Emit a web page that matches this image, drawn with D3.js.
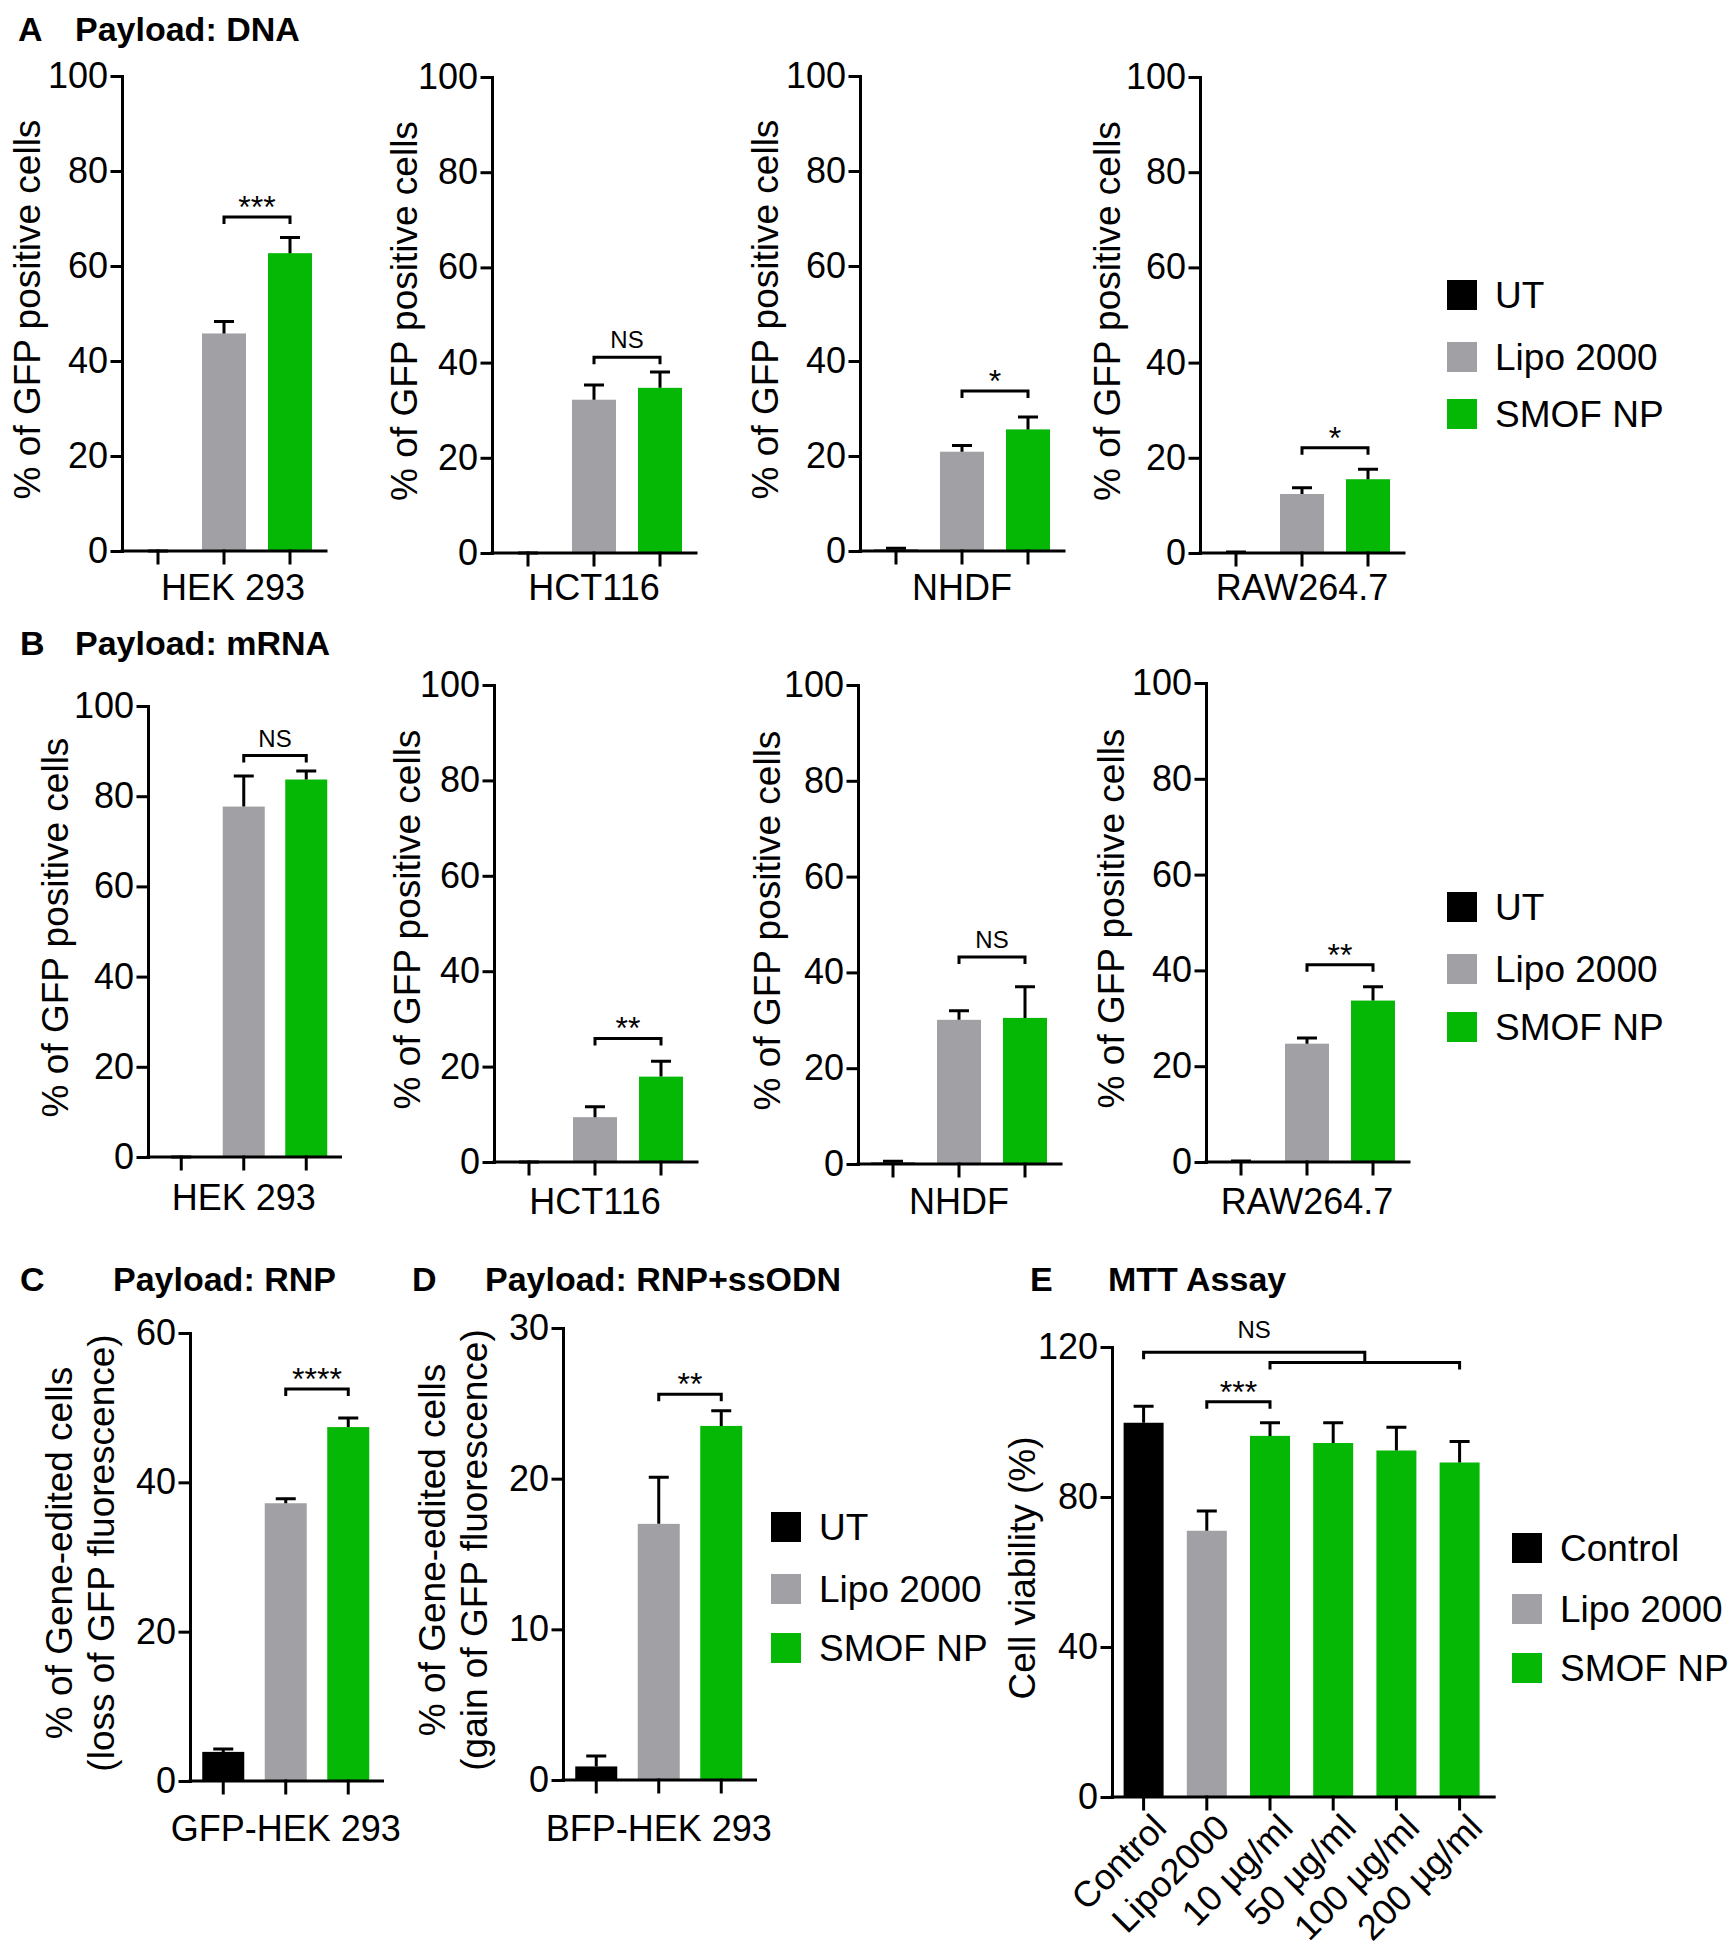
<!DOCTYPE html>
<html>
<head>
<meta charset="utf-8">
<script src="https://cdn.jsdelivr.net/npm/d3@7"></script>
<style>
  body { margin: 0; background: #fff; }
  text { font-family: "Liberation Sans", Arial, Helvetica, sans-serif; fill: #000; }
</style>
</head>
<body>
<svg id="fig"></svg>
<script>
// ---- data ----
const groups = ["UT", "Lipo 2000", "SMOF NP"];
const groupColors = ["#000000", "#a1a1a5", "#06b806"];

const dnaCells = ["HEK 293", "HCT116", "NHDF", "RAW264.7"];
const dnaMean = [[0, 45.8, 62.7], [0, 32.2, 34.7], [0.3, 20.9, 25.6], [0.1, 12.4, 15.5]];
const dnaSd = [[0, 2.5, 3.3], [0, 3.1, 3.3], [0.3, 1.3, 2.6], [0.1, 1.3, 2.1]];
const dnaSig = ["***", "NS", "*", "*"];
const dnaSigAt = [70.3, 41.1, 33.7, 22.1];

const mrnaCells = ["HEK 293", "HCT116", "NHDF", "RAW264.7"];
const mrnaMean = [[0, 77.7, 83.7], [0, 9.4, 17.9], [0.3, 30.1, 30.5], [0.1, 24.7, 33.7]];
const mrnaSd = [[0, 6.8, 1.9], [0, 2.2, 3.2], [0.3, 1.9, 6.5], [0.1, 1.2, 2.9]];
const mrnaSig = ["NS", "**", "NS", "**"];
const mrnaSigAt = [89.0, 25.9, 43.2, 41.2];

const gfpTicks = [0, 20, 40, 60, 80, 100];

const rnpMean = [3.9, 37.2, 47.4];
const rnpSd = [0.4, 0.6, 1.2];
const rnpTicks = [0, 20, 40, 60];

const odnMean = [0.9, 17.0, 23.5];
const odnSd = [0.7, 3.1, 1.0];
const odnTicks = [0, 10, 20, 30];

const mttLabels = ["Control", "Lipo2000", "10 \u00b5g/ml", "50 \u00b5g/ml", "100 \u00b5g/ml", "200 \u00b5g/ml"];
const mttMean = [99.8, 71.0, 96.3, 94.4, 92.4, 89.2];
const mttSd = [4.4, 5.3, 3.5, 5.4, 6.2, 5.6];
const mttGroup = [0, 1, 2, 2, 2, 2];
const mttLegend = ["Control", "Lipo 2000", "SMOF NP"];
const mttTicks = [0, 40, 80, 120];

// ---- drawing ----
const svg = d3.select("#fig").attr("width", 1730).attr("height", 1950);

function barPanel(p) {
  const g = svg.append("g");
  const n = p.means.length;
  const y = d3.scaleLinear().domain([0, p.max]).range([p.y0, p.yTop]);
  const pad = 1 - p.barW / p.step;
  const r0 = p.axisX + p.off, r1 = r0 + n * p.step;
  const x = d3.scaleBand().domain(d3.range(n)).range([r0, r1])
    .paddingInner(pad).paddingOuter(pad / 2);
  const cx = i => x(i) + x.bandwidth() / 2;

  g.selectAll("rect.bar").data(p.means).enter().append("rect")
    .attr("x", (d, i) => x(i))
    .attr("y", d => y(d))
    .attr("width", x.bandwidth())
    .attr("height", d => p.y0 - y(d))
    .attr("fill", (d, i) => p.colors[i]);

  g.selectAll("path.err").data(p.means).enter().append("path")
    .attr("d", (d, i) => {
      const top = y(d + p.sds[i]);
      return `M${cx(i)},${y(d)}V${top}M${cx(i) - 10},${top}H${cx(i) + 10}`;
    })
    .attr("stroke", "#000").attr("stroke-width", 3).attr("fill", "none");

  const ya = g.append("g").attr("transform", `translate(${p.axisX},0)`)
    .call(d3.axisLeft(y).tickValues(p.ticks).tickSize(10).tickSizeOuter(0).tickPadding(4));
  const xa = g.append("g").attr("transform", `translate(0,${p.y0})`)
    .call(d3.axisBottom(x).tickSize(12).tickSizeOuter(0)
      .tickFormat(p.xLabels ? (d => p.xLabels[d]) : ""));
  xa.select(".domain").attr("d", `M${p.axisX},0H${r1 + 3}`);
  [ya, xa].forEach(a => {
    a.selectAll("path, line").attr("stroke", "#000").attr("stroke-width", 3)
      .attr("stroke-linecap", "square");
    a.selectAll("text").attr("font-size", 36).attr("fill", "#000")
      .style("font-family", "'Liberation Sans', Arial, sans-serif");
  });

  if (p.cat) {
    g.append("text").attr("x", cx(1) + (p.catDx || 0)).attr("y", p.catY)
      .attr("text-anchor", "middle").attr("font-size", 36).text(p.cat);
  }

  if (p.sig) bracket(g, cx(1), cx(2), y(p.sigAt), p.sig, 9);

  const cy = (p.y0 + p.yTop) / 2 - 4;
  p.yTitle.forEach((t, k) => {
    g.append("text").attr("transform", `translate(${p.yTitleX[k]},${cy}) rotate(-90)`)
      .attr("dy", "0.35em").attr("text-anchor", "middle").attr("font-size", 37).text(t);
  });
  return { g, x, y, cx, xa };
}

function sigText(g, xm, by, label, nsGap) {
  if (label === "NS") {
    g.append("text").attr("x", xm).attr("y", by - nsGap).attr("text-anchor", "middle")
      .attr("font-size", 24).text(label);
  } else {
    g.append("text").attr("x", xm).attr("y", by + 1).attr("text-anchor", "middle")
      .attr("font-size", 32).text(label);
  }
}

function bracket(g, x1, x2, by, label, nsGap) {
  g.append("path").attr("d", `M${x1},${by + 7}V${by}H${x2}V${by + 7}`)
    .attr("stroke", "#000").attr("stroke-width", 3).attr("fill", "none");
  sigText(g, (x1 + x2) / 2, by, label, nsGap);
}

function legend(x, rows, labels, colors) {
  const g = svg.append("g");
  labels.forEach((l, i) => {
    g.append("rect").attr("x", x).attr("y", rows[i] - 15).attr("width", 30).attr("height", 30)
      .attr("fill", colors[i]);
    g.append("text").attr("x", x + 48).attr("y", rows[i]).attr("dy", "0.36em")
      .attr("font-size", 37).text(l);
  });
}

function title(x, x2, yb, letter, text) {
  svg.append("text").attr("x", x).attr("y", yb).attr("font-size", 34)
    .attr("font-weight", "bold").text(letter);
  svg.append("text").attr("x", x2).attr("y", yb).attr("font-size", 34)
    .attr("font-weight", "bold").text(text);
}

// ---- layout ----
const gfpTitle = ["% of GFP positive cells"];
const rowA = [
  { axisX: 122, yTop: 76, y0: 551, tx: 27 },
  { axisX: 492, yTop: 77, y0: 553, tx: 404 },
  { axisX: 860, yTop: 76, y0: 551, tx: 765 },
  { axisX: 1200, yTop: 77, y0: 553, tx: 1107 }
];
const rowB = [
  { axisX: 148, yTop: 706, y0: 1157, tx: 55, step: 62.5, barW: 42 },
  { axisX: 494, yTop: 685, y0: 1162, tx: 407, step: 66, barW: 44 },
  { axisX: 858, yTop: 685, y0: 1164, tx: 767, step: 66, barW: 44 },
  { axisX: 1206, yTop: 683, y0: 1162, tx: 1111, step: 66, barW: 44 }
];

title(18, 75, 41, "A", "Payload: DNA");
rowA.forEach((L, i) => barPanel({
  axisX: L.axisX, yTop: L.yTop, y0: L.y0, max: 100, ticks: gfpTicks,
  off: 3, step: 66, barW: 44,
  means: dnaMean[i], sds: dnaSd[i], colors: groupColors,
  cat: dnaCells[i], catY: 600, catDx: i === 0 ? 9 : 0,
  sig: dnaSig[i], sigAt: dnaSigAt[i],
  yTitle: gfpTitle, yTitleX: [L.tx]
}));
legend(1447, [295, 357, 414], groups, groupColors);

title(20, 75, 655, "B", "Payload: mRNA");
rowB.forEach((L, i) => barPanel({
  axisX: L.axisX, yTop: L.yTop, y0: L.y0, max: 100, ticks: gfpTicks,
  off: 2, step: L.step, barW: L.barW,
  means: mrnaMean[i], sds: mrnaSd[i], colors: groupColors,
  cat: mrnaCells[i], catY: i === 0 ? 1210 : 1214, sig: mrnaSig[i], sigAt: mrnaSigAt[i],
  yTitle: gfpTitle, yTitleX: [L.tx]
}));
legend(1447, [907, 969, 1027], groups, groupColors);

title(20, 113, 1291, "C", "Payload: RNP");
barPanel({
  axisX: 190, yTop: 1333, y0: 1781, max: 60, ticks: rnpTicks,
  off: 2, step: 62.5, barW: 42,
  means: rnpMean, sds: rnpSd, colors: groupColors,
  cat: "GFP-HEK 293", catY: 1841, sig: "****", sigAt: 52.5,
  yTitle: ["% of Gene-edited cells", "(loss of GFP fluorescence)"], yTitleX: [59, 101]
});

title(412, 485, 1291, "D", "Payload: RNP+ssODN");
barPanel({
  axisX: 563, yTop: 1328, y0: 1780, max: 30, ticks: odnTicks,
  off: 2, step: 62.5, barW: 42,
  means: odnMean, sds: odnSd, colors: groupColors,
  cat: "BFP-HEK 293", catY: 1841, sig: "**", sigAt: 25.6,
  yTitle: ["% of Gene-edited cells", "(gain of GFP fluorescence)"], yTitleX: [432, 474]
});
legend(771, [1527, 1589, 1648], groups, groupColors);

title(1030, 1108, 1291, "E", "MTT Assay");
const E = barPanel({
  axisX: 1112, yTop: 1347, y0: 1797, max: 120, ticks: mttTicks,
  off: 0, step: 63.2, barW: 40,
  means: mttMean, sds: mttSd, colors: mttGroup.map(k => groupColors[k]),
  xLabels: mttLabels,
  yTitle: ["Cell viability (%)"], yTitleX: [1022]
});
E.xa.selectAll(".tick text")
  .attr("x", 0).attr("y", 0).attr("dy", "0.35em")
  .attr("text-anchor", "end")
  .attr("transform", "translate(16,24) rotate(-45)");
// significance brackets of panel E
bracket(E.g, E.cx(1), E.cx(2), E.y(105.4), "***", 12);
const lowY = E.y(115.9), upY = E.y(118.6);
const mid = (E.cx(2) + E.cx(5)) / 2;
E.g.append("path")
  .attr("d", `M${E.cx(2)},${lowY + 7}V${lowY}H${E.cx(5)}V${lowY + 7}` +
             `M${E.cx(0)},${upY + 7}V${upY}H${mid}V${lowY}`)
  .attr("stroke", "#000").attr("stroke-width", 3).attr("fill", "none");
sigText(E.g, (E.cx(0) + mid) / 2, upY, "NS", 14);
legend(1512, [1548, 1609, 1668], mttLegend, groupColors);
</script>
</body>
</html>
